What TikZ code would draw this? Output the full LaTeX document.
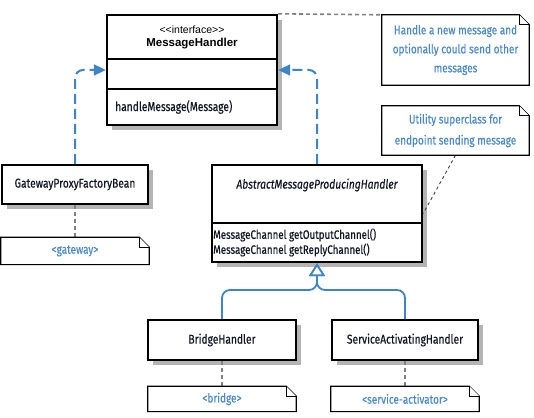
\documentclass[tikz,border=0pt]{standalone}
\usepackage{fontspec}
\setmainfont{Liberation Sans}
\newfontfamily\condfont[FakeStretch=0.8, FakeBold=0.4]{Fira Sans}
\usetikzlibrary{positioning,arrows.meta,shadows}
\definecolor{umlblue}{RGB}{61,133,198}
\definecolor{notetext}{RGB}{74,137,205}
\definecolor{linkgray}{RGB}{128,128,128}
\definecolor{shadowgray}{RGB}{180,180,180}
\definecolor{clstext}{RGB}{20,20,40}
\newcommand{\notebox}[1]{%
  \draw[notebody] (#1.north west) -- ([xshift=-10pt]#1.north east) -- ([yshift=-10pt]#1.north east) -- (#1.south east) -- (#1.south west) -- cycle;
  \draw[notebody] ([xshift=-10pt]#1.north east) -- ([xshift=-10pt,yshift=-10pt]#1.north east) -- ([yshift=-10pt]#1.north east);}
\begin{document}
\begin{tikzpicture}[x=1pt, y=-1pt,
  cls/.style = {draw, line width=2.4pt, fill=white, inner sep=0pt, text=clstext, font=\condfont\fontsize{12.8}{14}\selectfont,
    drop shadow={shadow xshift=5pt, shadow yshift=-5pt, fill=shadowgray, opacity=1}},
  txt/.style = {inner sep=0pt, text=clstext, font=\condfont\fontsize{12.8}{15}\selectfont},
  note/.style = {inner sep=0pt, text=notetext, align=center, font=\condfont\fontsize{12.5}{19}\selectfont},
  notebody/.style = {draw, line width=1.2pt, fill=white, line join=miter},
  link/.style = {draw=linkgray, line width=1.6pt, dash pattern=on 4pt off 3pt},
  thinlink/.style = {draw=black!75, line width=0.9pt, dash pattern=on 3pt off 3pt},
  realize/.style = {draw=umlblue, line width=2pt, dash pattern=on 10pt off 5pt, rounded corners=8pt,
    -{Triangle[length=12pt, width=11pt]}},
  inherit/.style = {draw=umlblue, line width=1.8pt, rounded corners=8pt,
    -{Triangle[open, length=13pt, width=16pt, fill=white]}}]
\useasboundingbox (0,0) rectangle (534,417);

% interface
\node[cls, minimum width=170pt, minimum height=110pt] (mh) at (192,70) {};
\node[inner sep=0pt, font=\fontsize{10.5}{12}\selectfont] (mhstereo) at (192,30) {<\kern0pt<interface>\kern0pt>};
\node[inner sep=0pt, font=\bfseries\fontsize{11.5}{13}\selectfont] (mhname) at (192,44) {MessageHandler};
\draw[line width=2.4pt] (mh.west |- 0,59) -- (mh.east |- 0,59);
\draw[line width=2.4pt] (mh.west |- 0,89) -- (mh.east |- 0,89);
\node[txt, anchor=west] (mhop) at (115,107) {handleMessage(Message)};

% abstract class
\node[cls, minimum width=210pt, minimum height=97pt] (abs) at (317,213.5) {};
\node[txt, font=\condfont\itshape\fontsize{12.8}{15}\selectfont] (absname) at (317,185) {AbstractMessageProducingHandler};
\draw[line width=2.4pt] (abs.west |- 0,223) -- (abs.east |- 0,223);
\node[txt, anchor=west, align=left, font=\condfont\fontsize{12.2}{15}\selectfont] (absops) at (213,242.5) {MessageChannel getOutputChannel()\\MessageChannel getReplyChannel()};

% classes
\node[cls, minimum width=146pt, minimum height=39pt] (gw) at (75,184.5) {GatewayProxyFactoryBean};
\node[cls, minimum width=148pt, minimum height=40pt] (bridge) at (222,340) {BridgeHandler};
\node[cls, minimum width=146pt, minimum height=40pt] (service) at (405,340) {ServiceActivatingHandler};

% notes
\node[note, minimum width=148pt, minimum height=27pt, below=32pt of gw] (gwnote) {};
\node[note, minimum width=148pt, minimum height=25pt, below=25pt of bridge] (bridgenote) {};
\node[note, minimum width=148pt, minimum height=25pt, below=25pt of service] (servicenote) {};
\node[note, minimum width=147pt, minimum height=70pt] (n1) at (455.5,50) {};
\node[note, minimum width=147pt, minimum height=49pt] (n2) at (455.5,130.5) {};

% connectors
\draw[link] (mh.north east) -- (n1.north west);
\draw[thinlink] (n2.south) -- (abs.east);
\draw[link] (gw) -- (gwnote);
\draw[link] (bridge) -- (bridgenote);
\draw[link] (service) -- (servicenote);
\draw[realize] (gw.north) |- (mh.west);
\draw[realize] (abs.north) |- (mh.east);
\coordinate (fork) at (317,290);
\draw[inherit] (bridge.north) |- (fork) -- (abs.south);
\draw[inherit] (service.north) |- (fork) -- (abs.south);

\notebox{gwnote}
\notebox{bridgenote}
\notebox{servicenote}
\notebox{n1}
\notebox{n2}
\node[note] at (gwnote) {<gateway>};
\node[note] at (bridgenote) {<bridge>};
\node[note] at (servicenote) {<service-activator>};
\node[note] at (n1) {Handle a new message and\\optionally could send other\\messages};
\node[note, font=\condfont\fontsize{12.5}{21}\selectfont] at (n2) {Utility superclass for\\endpoint sending message};
\end{tikzpicture}
\end{document}
